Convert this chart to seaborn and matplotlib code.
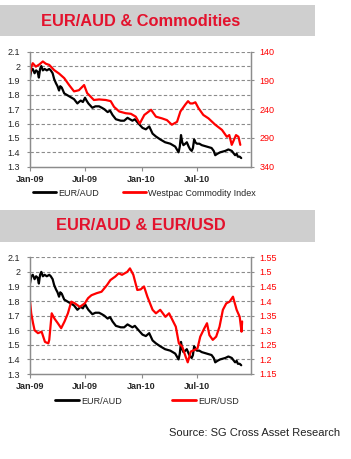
import pandas as pd
import numpy as np
import matplotlib
matplotlib.use("Agg")
import matplotlib.pyplot as plt
import matplotlib.dates as mdates
from matplotlib.patches import Rectangle
from matplotlib.lines import Line2D
import seaborn as sns

# EUR/AUD (used in both panels)
euraud_dates = ["2009-01-01", "2009-01-05", "2009-01-10", "2009-01-16", "2009-01-21", "2009-01-26",
                "2009-01-30", "2009-02-03", "2009-02-07", "2009-02-12", "2009-02-18", "2009-02-25",
                "2009-03-05", "2009-03-10", "2009-03-16", "2009-03-21", "2009-03-27", "2009-04-01",
                "2009-04-06", "2009-04-10", "2009-04-15", "2009-04-23", "2009-05-01", "2009-05-09",
                "2009-05-17", "2009-05-25", "2009-06-05", "2009-06-10", "2009-06-16", "2009-06-23",
                "2009-06-30", "2009-07-05", "2009-07-11", "2009-07-24", "2009-08-03", "2009-08-15",
                "2009-08-24", "2009-09-01", "2009-09-12", "2009-09-20", "2009-09-28", "2009-10-09",
                "2009-10-25", "2009-11-05", "2009-11-16", "2009-12-02", "2009-12-10", "2009-12-18",
                "2010-01-04", "2010-01-15", "2010-01-26", "2010-02-06", "2010-02-17", "2010-03-03",
                "2010-03-19", "2010-04-05", "2010-04-21", "2010-05-02", "2010-05-06", "2010-05-10",
                "2010-05-14", "2010-05-18", "2010-05-24", "2010-05-29", "2010-06-04", "2010-06-09",
                "2010-06-14", "2010-06-18", "2010-06-22", "2010-06-26", "2010-07-01", "2010-07-09",
                "2010-07-17", "2010-08-02", "2010-08-18", "2010-08-25", "2010-08-30", "2010-09-06",
                "2010-09-15", "2010-10-02", "2010-10-12", "2010-10-23", "2010-11-03", "2010-11-08",
                "2010-11-12", "2010-11-18", "2010-11-23"]
euraud = [1.92, 1.97, 1.98, 1.95, 1.97, 1.96,
          1.92, 1.98, 2.00, 1.97, 1.98, 1.97,
          1.98, 1.97, 1.95, 1.91, 1.88, 1.86,
          1.83, 1.86, 1.85, 1.81, 1.80, 1.79,
          1.78, 1.77, 1.74, 1.75, 1.76, 1.75,
          1.78, 1.76, 1.74, 1.71, 1.72, 1.72,
          1.71, 1.70, 1.68, 1.69, 1.66, 1.63,
          1.62, 1.62, 1.64, 1.62, 1.63, 1.61,
          1.57, 1.56, 1.58, 1.53, 1.51, 1.49,
          1.47, 1.46, 1.44, 1.40, 1.44, 1.52,
          1.47, 1.45, 1.46, 1.47, 1.44, 1.42,
          1.41, 1.43, 1.49, 1.47, 1.46, 1.46,
          1.45, 1.44, 1.43, 1.41, 1.38, 1.39,
          1.40, 1.41, 1.42, 1.41, 1.38, 1.39,
          1.37, 1.37, 1.36]

# Westpac Commodity Index (right axis, inverted)
westpac_dates = ["2009-01-01", "2009-01-06", "2009-01-10", "2009-01-20", "2009-02-01", "2009-02-12",
                 "2009-02-22", "2009-03-05", "2009-03-21", "2009-04-06", "2009-04-23", "2009-05-09",
                 "2009-05-25", "2009-06-10", "2009-06-27", "2009-07-07", "2009-07-29", "2009-08-15",
                 "2009-09-06", "2009-09-22", "2009-10-03", "2009-10-20", "2009-11-10", "2009-11-27",
                 "2009-12-13", "2009-12-26", "2010-01-10", "2010-02-01", "2010-02-17", "2010-03-09",
                 "2010-03-25", "2010-04-10", "2010-04-27", "2010-05-08", "2010-05-24", "2010-06-02",
                 "2010-06-09", "2010-06-17", "2010-06-26", "2010-07-06", "2010-07-22", "2010-08-08",
                 "2010-08-30", "2010-09-21", "2010-10-07", "2010-10-15", "2010-10-23", "2010-11-06",
                 "2010-11-14", "2010-11-20"]
westpac = [178, 165, 160, 166, 162, 157,
           161, 163, 172, 178, 186, 198,
           209, 207, 198, 212, 224, 223,
           224, 226, 236, 244, 247, 248,
           253, 265, 250, 241, 253, 256,
           259, 267, 262, 244, 232, 226,
           230, 230, 228, 238, 250, 256,
           267, 276, 288, 285, 302, 285,
           288, 302]

# EUR/USD (right axis, bottom panel)
eurusd_dates = ["2009-01-01", "2009-01-05", "2009-01-11", "2009-01-16", "2009-01-27", "2009-02-08",
                "2009-02-19", "2009-03-02", "2009-03-05", "2009-03-13", "2009-03-22", "2009-04-02",
                "2009-04-13", "2009-04-24", "2009-05-05", "2009-05-16", "2009-05-28", "2009-06-13",
                "2009-06-29", "2009-07-10", "2009-07-21", "2009-08-07", "2009-08-23", "2009-09-10",
                "2009-09-21", "2009-10-07", "2009-10-18", "2009-10-29", "2009-11-15", "2009-11-24",
                "2009-12-05", "2009-12-18", "2009-12-29", "2010-01-09", "2010-01-20", "2010-02-06",
                "2010-02-17", "2010-03-03", "2010-03-20", "2010-04-01", "2010-04-12", "2010-04-23",
                "2010-05-03", "2010-05-14", "2010-05-25", "2010-06-01", "2010-06-11", "2010-06-22",
                "2010-07-03", "2010-07-12", "2010-07-25", "2010-08-03", "2010-08-11", "2010-08-22",
                "2010-09-02", "2010-09-13", "2010-09-24", "2010-10-05", "2010-10-16", "2010-10-27",
                "2010-11-08", "2010-11-18", "2010-11-24", "2010-11-26"]
eurusd = [1.400, 1.358, 1.324, 1.300, 1.290, 1.295,
          1.260, 1.255, 1.267, 1.358, 1.340, 1.324,
          1.307, 1.330, 1.358, 1.398, 1.392, 1.380,
          1.392, 1.410, 1.420, 1.427, 1.432, 1.455,
          1.472, 1.484, 1.495, 1.490, 1.500, 1.512,
          1.490, 1.438, 1.440, 1.450, 1.415, 1.370,
          1.358, 1.370, 1.346, 1.358, 1.335, 1.312,
          1.255, 1.244, 1.210, 1.190, 1.227, 1.232,
          1.238, 1.278, 1.306, 1.324, 1.283, 1.267,
          1.278, 1.312, 1.370, 1.392, 1.398, 1.415,
          1.370, 1.346, 1.295, 1.330]

left_ticks = [1.3, 1.4, 1.5, 1.6, 1.7, 1.8, 1.9, 2.0, 2.1]
left_labels = ["1.3", "1.4", "1.5", "1.6", "1.7", "1.8", "1.9", "2", "2.1"]
westpac_ticks = [140, 190, 240, 290, 340]
eurusd_ticks = [1.15, 1.2, 1.25, 1.3, 1.35, 1.4, 1.45, 1.5, 1.55]

df_aud = pd.DataFrame({"date": pd.to_datetime(euraud_dates), "value": euraud})
df_wp = pd.DataFrame({"date": pd.to_datetime(westpac_dates), "value": westpac})
df_usd = pd.DataFrame({"date": pd.to_datetime(eurusd_dates), "value": eurusd})

sns.set_style("white")
plt.rcParams["font.family"] = ["Liberation Sans", "DejaVu Sans"]

RED = "#ff0000"
TITLE_RED = "#e3122d"
GRID = "#8c8c8c"
W, H = 351, 459

fig = plt.figure(figsize=(W / 100, H / 100), dpi=100)
fig.patch.set_facecolor("white")


def fx(px):
    return px / W


def fy(py):
    return 1 - py / H


def title_band(y0, y1, text, ytxt):
    fig.patches.append(Rectangle((0, fy(y1)), fx(315), fy(y0) - fy(y1), transform=fig.transFigure,
                                 facecolor="#cfcfcf", edgecolor="none", zorder=0))
    fig.text(fx(141), fy(ytxt), text, ha="center", va="center", fontsize=11.8,
             fontweight="bold", color=TITLE_RED)


def style_axes(ax, ax2):
    for a in (ax, ax2):
        a.spines["top"].set_visible(False)
        for s in ("left", "right", "bottom"):
            a.spines[s].set_color(GRID)
            a.spines[s].set_linewidth(0.9)
        a.set_xlabel("")
        a.set_ylabel("")
    ax.set_yticks(left_ticks)
    ax.set_yticklabels(left_labels)
    ax.set_ylim(1.3, 2.1)
    for t in left_ticks[1:]:
        ax.axhline(t, color=GRID, lw=0.8, ls=(0, (3, 2)), zorder=0)
    ax.tick_params(axis="y", which="both", length=2, color=GRID, labelsize=6.5, pad=5)
    ax.tick_params(axis="x", length=3, color=GRID, labelsize=6.5, pad=3, bottom=True)
    ax2.tick_params(axis="y", length=2, color=GRID, labelsize=6.5, pad=4.5, labelcolor=RED, right=True)
    ax.xaxis.set_major_locator(mdates.MonthLocator(bymonth=[1, 7]))
    ax.xaxis.set_major_formatter(mdates.DateFormatter("%b-%y"))
    ax.set_xlim(pd.Timestamp("2009-01-01"), pd.Timestamp("2010-12-24"))
    for lab in ax.get_xticklabels():
        lab.set_fontweight("bold")


# ---- top panel: EUR/AUD & Commodities
title_band(5, 36, "EUR/AUD & Commodities", 21)
ax1 = fig.add_axes([fx(30), fy(166.7), fx(220.7), fy(51.7) - fy(166.7)])
ax1b = ax1.twinx()
sns.lineplot(data=df_aud, x="date", y="value", ax=ax1, color="black", lw=1.6)
sns.lineplot(data=df_wp, x="date", y="value", ax=ax1b, color=RED, lw=1.6)
ax1b.set_ylim(340, 140)
ax1b.set_yticks(westpac_ticks)
style_axes(ax1, ax1b)

fig.legend(handles=[Line2D([], [], color="black", lw=2),
                    Line2D([], [], color=RED, lw=2)],
           labels=["EUR/AUD", "Westpac Commodity Index"],
           loc="center left", bbox_to_anchor=(fx(33), fy(193)), ncol=2, frameon=False,
           fontsize=6.5, handlelength=2.5, handletextpad=0.25, columnspacing=2.7,
           borderpad=0, borderaxespad=0)

# ---- bottom panel: EUR/AUD & EUR/USD
title_band(210, 241.7, "EUR/AUD & EUR/USD", 226)
ax2 = fig.add_axes([fx(30), fy(374), fx(220.7), fy(257.3) - fy(374)])
ax2b = ax2.twinx()
sns.lineplot(data=df_aud, x="date", y="value", ax=ax2, color="black", lw=1.6)
sns.lineplot(data=df_usd, x="date", y="value", ax=ax2b, color=RED, lw=1.6)
ax2b.set_ylim(1.15, 1.55)
ax2b.set_yticks(eurusd_ticks)
ax2b.set_yticklabels([f"{t:g}" for t in eurusd_ticks])
style_axes(ax2, ax2b)

fig.legend(handles=[Line2D([], [], color="black", lw=2),
                    Line2D([], [], color=RED, lw=2)],
           labels=["EUR/AUD", "EUR/USD"],
           loc="center left", bbox_to_anchor=(fx(55), fy(401)), ncol=2, frameon=False,
           fontsize=6.5, handlelength=2.7, handletextpad=0.25, columnspacing=5.5,
           borderpad=0, borderaxespad=0)

fig.text(fx(340), fy(433), "Source: SG Cross Asset Research", ha="right", va="center",
         fontsize=8, color="#222222")

fig.savefig("out.png", dpi=100)
